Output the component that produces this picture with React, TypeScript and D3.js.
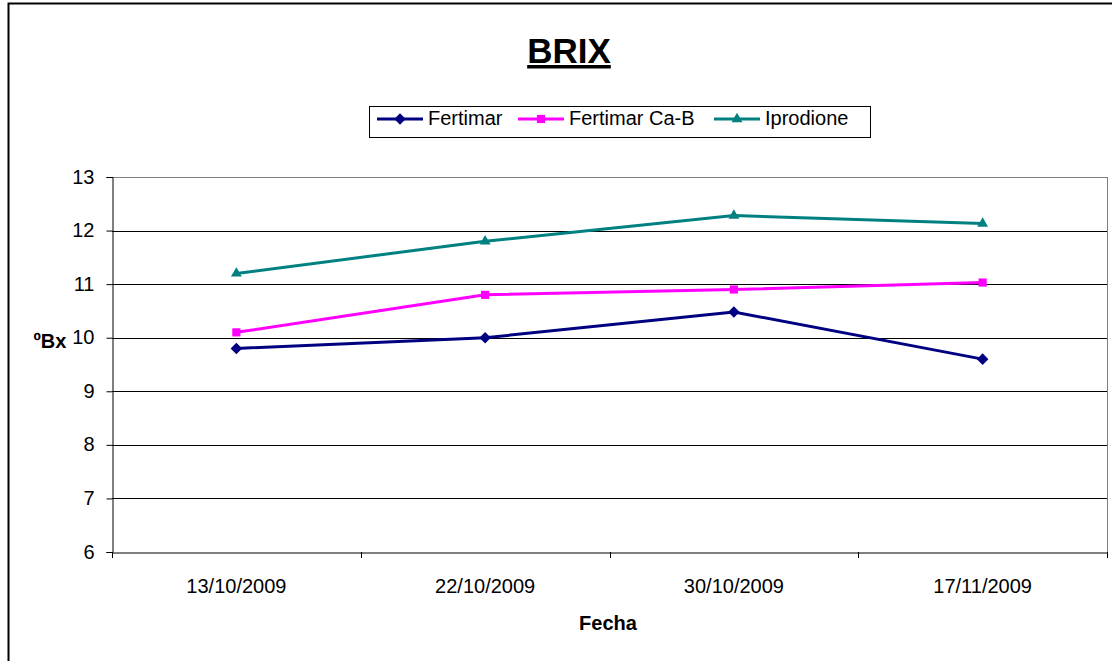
import React, {useEffect, useRef} from 'react';
import * as d3 from 'd3';

const fechas = ['13/10/2009', '22/10/2009', '30/10/2009', '17/11/2009'];
const fertimar = [9.8, 10.0, 10.48, 9.6];
const fertimarCaB = [10.1, 10.8, 10.9, 11.03];
const iprodione = [11.2, 11.8, 12.28, 12.13];
const yTicks = [6, 7, 8, 9, 10, 11, 12, 13];

const series = [
  {name: 'Fertimar', values: fertimar, color: '#000080', symbol: d3.symbolDiamond2},
  {name: 'Fertimar Ca-B', values: fertimarCaB, color: '#ff00ff', symbol: d3.symbolSquare2},
  {name: 'Iprodione', values: iprodione, color: '#008080', symbol: d3.symbolTriangle2},
];

export default function App() {
  const ref = useRef<SVGSVGElement>(null);

  useEffect(() => {
    const svg = d3.select(ref.current);
    svg.selectAll('*').remove();
    const font = 'Arial, "Liberation Sans", sans-serif';

    // outer chart border
    svg.append('rect')
      .attr('x', 8.5).attr('y', 3.5)
      .attr('width', 1120).attr('height', 680)
      .attr('fill', 'white').attr('stroke', '#000').attr('stroke-width', 2);

    const left = 112, right = 1107, top = 177, bottom = 552;

    const x = d3.scaleBand().domain(fechas).range([left, right]);
    const y = d3.scaleLinear().domain([6, 13]).range([bottom, top]);

    // gridlines
    svg.append('g')
      .selectAll('line')
      .data(yTicks.filter((t) => t > 6))
      .enter()
      .append('line')
      .attr('x1', left).attr('x2', right)
      .attr('y1', (d) => Math.round(y(d)) + 0.5)
      .attr('y2', (d) => Math.round(y(d)) + 0.5)
      .attr('stroke', (d) => (d === 13 ? '#808080' : '#000'))
      .attr('stroke-width', 1);

    // right edge of plot area
    svg.append('line')
      .attr('x1', right + 0.5).attr('x2', right + 0.5)
      .attr('y1', top).attr('y2', bottom)
      .attr('stroke', '#808080');

    // y axis
    const yAxis = svg.append('g')
      .attr('transform', `translate(${left + 0.5},0)`)
      .call(d3.axisLeft(y).tickValues(yTicks).tickSize(6).tickPadding(12).tickFormat(d3.format('d')));
    yAxis.select('.domain').attr('stroke', '#000');
    yAxis.selectAll('text')
      .attr('font-family', font).attr('font-size', 20).attr('fill', '#000')
      .attr('dy', '0.3em');

    // x axis
    const xAxis = svg.append('g')
      .attr('transform', `translate(0,${bottom + 0.5})`)
      .call(d3.axisBottom(x).tickSize(0).tickPadding(26));
    xAxis.select('.domain').attr('stroke', '#000');
    xAxis.selectAll('text')
      .attr('font-family', font).attr('font-size', 20).attr('fill', '#000');
    const bounds = fechas.map((f) => x(f) as number).concat([right]);
    svg.append('g')
      .selectAll('line')
      .data(bounds)
      .enter()
      .append('line')
      .attr('x1', (d) => Math.round(d) + 0.5).attr('x2', (d) => Math.round(d) + 0.5)
      .attr('y1', bottom).attr('y2', bottom + 6)
      .attr('stroke', '#000');

    const cx = (i: number) => (x(fechas[i]) as number) + x.bandwidth() / 2;

    // lines and markers
    const line = d3.line<number>()
      .x((_, i) => cx(i))
      .y((d) => y(d));

    series.forEach((s) => {
      svg.append('path')
        .datum(s.values)
        .attr('d', line)
        .attr('fill', 'none')
        .attr('stroke', s.color)
        .attr('stroke-width', 3);
      svg.append('g')
        .selectAll('path')
        .data(s.values)
        .enter()
        .append('path')
        .attr('d', d3.symbol().type(s.symbol).size(85)())
        .attr('transform', (d, i) => `translate(${cx(i)},${y(d)})`)
        .attr('fill', s.color);
    });

    // title
    svg.append('text')
      .attr('x', 569).attr('y', 63)
      .attr('text-anchor', 'middle')
      .attr('font-family', font).attr('font-size', 35).attr('font-weight', 'bold')
      .attr('text-decoration', 'underline')
      .text('BRIX');

    // axis titles
    svg.append('text')
      .attr('x', 50).attr('y', 348)
      .attr('text-anchor', 'middle')
      .attr('font-family', font).attr('font-size', 20).attr('font-weight', 'bold')
      .text('ºBx');
    svg.append('text')
      .attr('x', 608).attr('y', 630)
      .attr('text-anchor', 'middle')
      .attr('font-family', font).attr('font-size', 20).attr('font-weight', 'bold')
      .text('Fecha');

    // legend
    const legend = svg.append('g');
    legend.append('rect')
      .attr('x', 369.5).attr('y', 106.5)
      .attr('width', 501).attr('height', 31)
      .attr('fill', 'white').attr('stroke', '#000');
    const legendX = [377, 518, 714];
    series.forEach((s, i) => {
      const g = legend.append('g').attr('transform', `translate(${legendX[i]},119)`);
      g.append('line').attr('x1', 0).attr('x2', 46).attr('y1', 0).attr('y2', 0)
        .attr('stroke', s.color).attr('stroke-width', 3);
      g.append('path')
        .attr('d', d3.symbol().type(s.symbol).size(85)())
        .attr('transform', 'translate(23,0)')
        .attr('fill', s.color);
      g.append('text')
        .attr('x', 51).attr('y', 6)
        .attr('font-family', font).attr('font-size', 20)
        .text(s.name);
    });
  }, []);

  return (
    <svg
      ref={ref}
      width={1112}
      height={661}
      style={{position: 'absolute', left: 0, top: 0, background: 'white'}}
    />
  );
}
